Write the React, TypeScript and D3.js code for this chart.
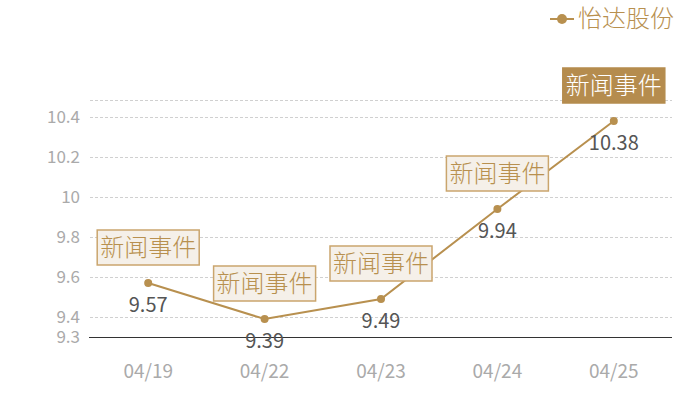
import { useEffect, useRef } from "react";
import * as d3 from "d3";

const dates = ["04/19", "04/22", "04/23", "04/24", "04/25"];
const prices = [9.57, 9.39, 9.49, 9.94, 10.38];
const yTicks = [9.3, 9.4, 9.6, 9.8, 10, 10.2, 10.4];
const eventLabel = "新闻事件";
const seriesName = "怡达股份";

const App = () => {
  const chartRef = useRef(null);

  useEffect(() => {
    if (!chartRef.current) return;
    const svg = d3.select(chartRef.current);
    svg.selectAll("*").remove();

    const width = 700;
    const height = 400;
    const margin = { top: 100, right: 28, bottom: 63, left: 90 };
    const gold = "#b8904f";
    const font = "'Noto Sans CJK SC', 'Noto Sans', sans-serif";

    svg
      .attr("width", width)
      .attr("height", height)
      .attr("viewBox", [0, 0, width, height] as any)
      .style("position", "absolute")
      .style("left", 0)
      .style("top", 0)
      .style("font-family", font);

    const x = d3
      .scaleBand()
      .domain(dates)
      .range([margin.left, width - margin.right]);
    const y = d3
      .scaleLinear()
      .domain([9.3, 10.485])
      .range([height - margin.bottom, margin.top]);

    const cx = (d: string) => (x(d) as number) + x.bandwidth() / 2;

    // grid lines
    const gridVals = yTicks.filter((v) => v > 9.3).concat([10.485]);
    svg
      .append("g")
      .selectAll("line")
      .data(gridVals)
      .join("line")
      .attr("x1", margin.left)
      .attr("x2", width - margin.right)
      .attr("y1", (d) => Math.round(y(d)) + 0.5)
      .attr("y2", (d) => Math.round(y(d)) + 0.5)
      .attr("stroke", "#d0d0d0")
      .attr("stroke-dasharray", "3,2");

    // y axis labels
    svg
      .append("g")
      .selectAll("text")
      .data(yTicks)
      .join("text")
      .attr("x", 80)
      .attr("y", (d) => y(d))
      .attr("dy", "0.35em")
      .attr("text-anchor", "end")
      .attr("fill", "#aaaaaa")
      .attr("font-size", 17)
      .text((d) => d3.format("~g")(d));

    // x axis line
    svg
      .append("line")
      .attr("x1", margin.left - 1)
      .attr("x2", width - margin.right)
      .attr("y1", Math.round(y(9.3)) + 0.5)
      .attr("y2", Math.round(y(9.3)) + 0.5)
      .attr("stroke", "#333");

    // x labels
    svg
      .append("g")
      .selectAll("text")
      .data(dates)
      .join("text")
      .attr("x", (d) => cx(d))
      .attr("y", 378)
      .attr("text-anchor", "middle")
      .attr("fill", "#aaaaaa")
      .attr("font-size", 19)
      .text((d) => d);

    // line
    const line = d3
      .line<number>()
      .x((_, i) => cx(dates[i]))
      .y((d) => y(d));
    svg
      .append("path")
      .attr("d", line(prices))
      .attr("fill", "none")
      .attr("stroke", gold)
      .attr("stroke-width", 2);

    svg
      .append("g")
      .selectAll("circle")
      .data(prices)
      .join("circle")
      .attr("cx", (_, i) => cx(dates[i]))
      .attr("cy", (d) => y(d))
      .attr("r", 4)
      .attr("fill", gold);

    // value labels
    svg
      .append("g")
      .selectAll("text")
      .data(prices)
      .join("text")
      .attr("x", (_, i) => cx(dates[i]))
      .attr("y", (d) => y(d) + 29)
      .attr("text-anchor", "middle")
      .attr("fill", "#555")
      .attr("font-size", 20)
      .text((d) => d3.format(".2f")(d));

    // event markers
    const ev = svg
      .append("g")
      .selectAll("g")
      .data(prices)
      .join("g")
      .attr("transform", (d, i) => `translate(${cx(dates[i])},${y(d) - 18})`);
    ev.append("rect")
      .attr("x", -51)
      .attr("y", -35)
      .attr("width", 102)
      .attr("height", 35)
      .attr("fill", (_, i) => (i === prices.length - 1 ? "#b58c4e" : "#f5f0e9"))
      .attr("stroke", (_, i) => (i === prices.length - 1 ? "#b58c4e" : "#caa56d"))
      .attr("stroke-width", 1.5);
    ev.append("text")
      .attr("x", 0)
      .attr("y", -9)
      .attr("text-anchor", "middle")
      .attr("font-size", 24)
      .attr("font-weight", 300)
      .attr("fill", (_, i) => (i === prices.length - 1 ? "#fff" : gold))
      .text(eventLabel);

    // legend
    const lg = svg.append("g").attr("transform", "translate(550,19)");
    lg.append("line")
      .attr("x1", 0)
      .attr("x2", 24)
      .attr("stroke", gold)
      .attr("stroke-width", 2);
    lg.append("circle").attr("cx", 12).attr("r", 5).attr("fill", gold);
    lg.append("text")
      .attr("x", 28)
      .attr("dy", "0.35em")
      .attr("font-size", 24)
      .attr("font-weight", 300)
      .attr("fill", gold)
      .text(seriesName);
  }, []);

  return <svg ref={chartRef}></svg>;
};

export default App;
